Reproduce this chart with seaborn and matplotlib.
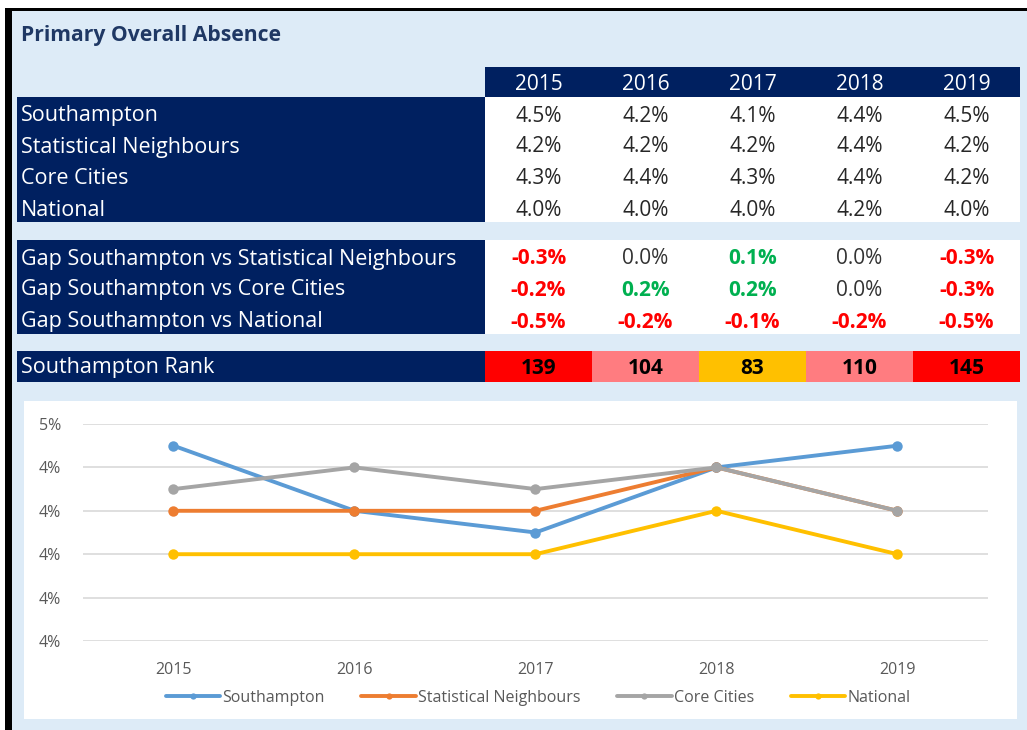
import numpy as np
import pandas as pd
import seaborn as sns
import matplotlib.pyplot as plt
import matplotlib.ticker as mticker
from matplotlib.patches import Rectangle
from matplotlib.lines import Line2D

# Data
years = [2015, 2016, 2017, 2018, 2019]
series_names = ["Southampton", "Statistical Neighbours", "Core Cities", "National"]
southampton = [4.5, 4.2, 4.1, 4.4, 4.5]
stat_neighbours = [4.2, 4.2, 4.2, 4.4, 4.2]
core_cities = [4.3, 4.4, 4.3, 4.4, 4.2]
national = [4.0, 4.0, 4.0, 4.2, 4.0]

gap_names = ["Gap Southampton vs Statistical Neighbours",
             "Gap Southampton vs Core Cities",
             "Gap Southampton vs National"]
gap_sn = [-0.3, 0.0, 0.1, 0.0, -0.3]
gap_cc = [-0.2, 0.2, 0.2, 0.0, -0.3]
gap_nat = [-0.5, -0.2, -0.1, -0.2, -0.5]

ranks = [139, 104, 83, 110, 145]

# Colours
NAVY = "#002060"
BG = "#DDEBF7"
line_colors = ["#5B9BD5", "#ED7D31", "#A5A5A5", "#FFC000"]


def gap_color(v):
    if v < 0:
        return "#FF0000"
    if v > 0:
        return "#00B050"
    return "#333333"


def rank_color(r):
    if r >= 130:
        return "#FF0000"
    if r >= 100:
        return "#FF7C80"
    return "#FFC000"


sns.set_theme(style="white")
plt.rcParams["font.family"] = ["Open Sans", "DejaVu Sans"]

W, H = 1027, 730
fig = plt.figure(figsize=(W / 100, H / 100), dpi=100)

# background layer in pixel coordinates
bg = fig.add_axes([0, 0, 1, 1])
bg.set_xlim(0, W)
bg.set_ylim(H, 0)
bg.axis("off")


def box(x0, y0, x1, y1, color, z=1):
    bg.add_patch(Rectangle((x0, y0), x1 - x0, y1 - y0, facecolor=color,
                           edgecolor="none", zorder=z))


box(12, 11, W, H, BG)
box(5, 8, W, 11, "black", 3)
box(5, 8, 12, H, "black", 3)

bg.text(21, 35, "Primary Overall Absence", fontsize=15.2, fontweight="bold",
        color="#1F3864", va="center", ha="left", zorder=4)

FS = 15.5
VS = 15
col_left, col_w = 485, 107
col_x = [col_left + col_w * (i + 0.5) for i in range(len(years))]
right_edge = col_left + col_w * len(years)

# header
box(col_left, 67, right_edge, 97, NAVY, 2)
for x, yr in zip(col_x, years):
    bg.text(x, 84, str(yr), color="white", fontsize=VS, ha="center", va="center", zorder=4)

# main values block
box(17, 97, col_left, 222, NAVY, 2)
box(col_left, 97, right_edge, 222, "white", 2)
row_y = [116, 147, 179, 211]
for y, name, vals in zip(row_y, series_names,
                         [southampton, stat_neighbours, core_cities, national]):
    bg.text(21, y, name, color="white", fontsize=FS, ha="left", va="center", zorder=4)
    for x, v in zip(col_x, vals):
        bg.text(x, y, f"{v:.1f}%", color="#262626", fontsize=VS,
                ha="center", va="center", zorder=4)

# gap block
box(17, 240, col_left, 334, NAVY, 2)
box(col_left, 240, right_edge, 334, "white", 2)
gap_y = [259, 290, 322]
for y, name, vals in zip(gap_y, gap_names, [gap_sn, gap_cc, gap_nat]):
    bg.text(21, y, name, color="white", fontsize=FS, ha="left", va="center", zorder=4)
    for x, v in zip(col_x, vals):
        bg.text(x, y, f"{v:.1f}%", color=gap_color(v), fontsize=VS,
                fontweight="bold" if v != 0 else "normal",
                ha="center", va="center", zorder=4)

# rank row
box(17, 351, col_left, 382, NAVY, 2)
bg.text(21, 368, "Southampton Rank", color="white", fontsize=FS,
        ha="left", va="center", zorder=4)
for i, (x, r) in enumerate(zip(col_x, ranks)):
    box(col_left + col_w * i, 351, col_left + col_w * (i + 1), 382, rank_color(r), 2)
    bg.text(x, 368, str(r), color="black", fontsize=VS, fontweight="bold",
            ha="center", va="center", zorder=4)

# chart panel
box(24, 401, 1017, 719, "white", 2)

# line chart
df = pd.DataFrame({
    "Year": years * 4,
    "Value": southampton + stat_neighbours + core_cities + national,
    "Series": [n for n in series_names for _ in years],
})

ax = fig.add_axes([83 / W, 1 - 641 / H, (988 - 83) / W, (641 - 424) / H])
ax.set_zorder(5)
ax.set_facecolor("none")
sns.lineplot(data=df, x="Year", y="Value", hue="Series", hue_order=series_names,
             palette=line_colors, marker="o", markersize=7.5, markeredgewidth=0,
             linewidth=2.8, legend=False, ax=ax)

ax.set_xlim(2014.5, 2019.5)
ax.set_ylim(3.6, 4.6)
ax.set_xticks(years)
ax.set_yticks(np.arange(3.6, 4.61, 0.2))
ax.yaxis.set_major_formatter(mticker.FuncFormatter(lambda v, p: f"{v:.0f}%"))
ax.grid(axis="y", color="#D9D9D9", linewidth=1.2)
ax.grid(axis="x", visible=False)
for s in ax.spines.values():
    s.set_visible(False)
ax.tick_params(axis="both", length=0, labelsize=11.5, colors="#595959")
ax.tick_params(axis="x", pad=15)
ax.tick_params(axis="y", pad=16)
ax.set_xlabel("")
ax.set_ylabel("")

handles = [Line2D([], [], color=c, linewidth=2.8, marker="o", markersize=4.5,
                  markeredgewidth=0) for c in line_colors]
ax.legend(handles, series_names, loc="center", bbox_to_anchor=(0.503, -0.263),
          ncol=4, frameon=False, handlelength=3.4, handletextpad=0.15,
          columnspacing=2.3, fontsize=11.5, labelcolor="#595959")

fig.savefig("out.png", dpi=100)
